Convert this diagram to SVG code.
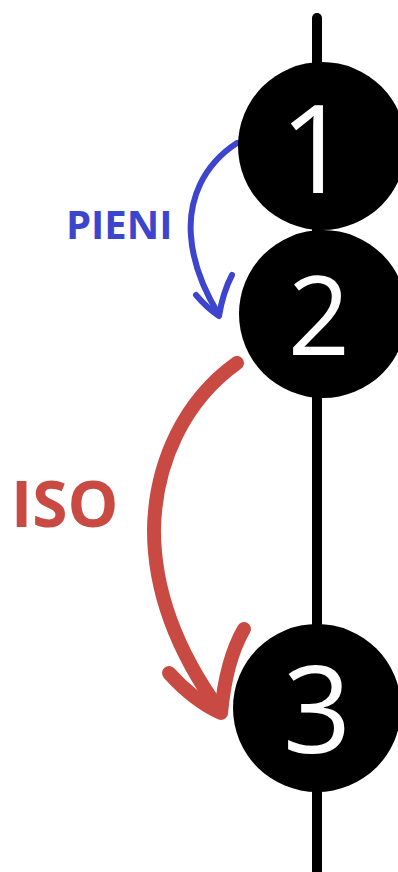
<svg xmlns="http://www.w3.org/2000/svg" width="398" height="872" viewBox="0 0 398 872">
<style>
.node{fill:#000}
.num{font-family:"Open Sans","Liberation Sans",sans-serif;fill:#fff;text-anchor:middle}
.lbl{font-family:"Open Sans","Liberation Sans",sans-serif;font-weight:700}
.blue{fill:none;stroke:#3d45cf;stroke-width:6;stroke-linecap:round;stroke-linejoin:round}
.red{fill:none;stroke:#c84a43;stroke-width:14;stroke-linecap:round;stroke-linejoin:round}
</style>
<rect width="398" height="872" fill="#fff"/>
<g id="connectors">
<line x1="317" y1="18" x2="317" y2="872" stroke="#000" stroke-width="10" stroke-linecap="round"/>
<path class="blue" d="M237,143 C203,165 188,200 191,236 C193,266 205,292 219,315"/>
<path class="blue" d="M196,295 Q207,308 219,316 Q223,292 232,275"/>
<path class="red" d="M237,363 C185,400 155,462 154,530 C154,600 183,660 220,711"/>
<path class="red" d="M169,673 Q193,700 221,713 Q226,660 244,629"/>
</g>
<g id="node1">
<circle class="node" cx="322" cy="146" r="84"/>
<text class="num" x="315" y="193" font-size="123">1</text>
</g>
<g id="node2">
<circle class="node" cx="323" cy="314" r="84"/>
<text class="num" x="319" y="355" font-size="109">2</text>
</g>
<g id="node3">
<circle class="node" cx="317" cy="708" r="84"/>
<text class="num" x="317" y="753" font-size="120">3</text>
</g>
<g id="label-pieni">
<text class="lbl" x="66" y="239" font-size="40" fill="#3d45cf">PIENI</text>
</g>
<g id="label-iso">
<text class="lbl" x="11" y="527" font-size="64" fill="#c84a43">ISO</text>
</g>
</svg>
